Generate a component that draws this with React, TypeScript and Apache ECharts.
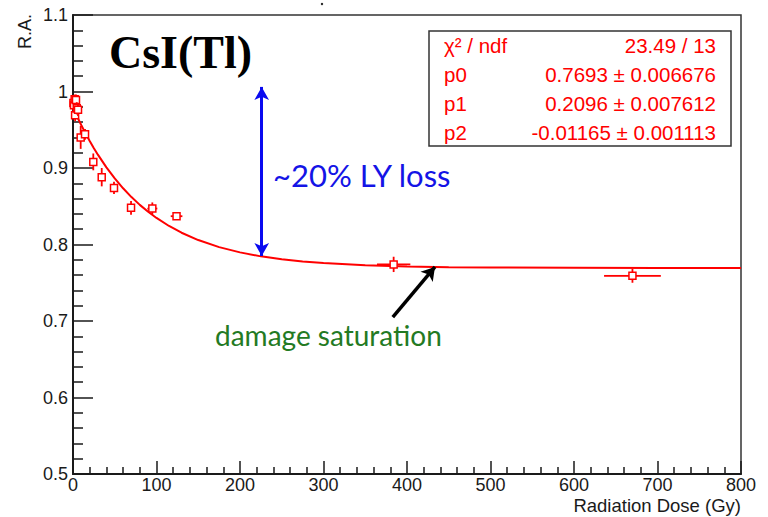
import React, { useEffect, useRef } from "react";
import * as echarts from "echarts";

// Measured points (Radiation Dose in Gy, relative amplitude)
const doseGy = [0.5, 1.2, 2, 2.5, 3.6, 4.5, 6, 9.2, 14.4, 24.3, 34.4, 49.1, 69.5, 95, 124, 384, 670];
const relAmp = [0.985, 0.982, 0.99, 0.969, 0.989, 0.978, 0.976, 0.94, 0.944, 0.908, 0.888, 0.874, 0.848, 0.847, 0.837, 0.774, 0.759];
const doseErr = [0.5, 0.5, 0.5, 0.5, 0.5, 0.5, 0.5, 1, 4, 1, 1, 1, 1, 6, 7, 20, 34];
const ampErr = [0.008, 0.008, 0.006, 0.008, 0.007, 0.008, 0.008, 0.015, 0.007, 0.011, 0.012, 0.008, 0.009, 0.008, 0.005, 0.01, 0.009];

// Fit curve
const fitDose = [0, 5, 10, 15, 20, 25, 30, 40, 50, 60, 70, 80, 90, 100, 115, 130, 150, 175, 200, 225, 250, 275, 300, 350, 400, 450, 500, 600, 700, 800];
const fitAmp = [0.9789, 0.967, 0.9559, 0.9453, 0.9353, 0.9259, 0.9171, 0.9008, 0.8864, 0.8735, 0.862, 0.8518, 0.8428, 0.8347, 0.8242, 0.8154, 0.8058, 0.7966, 0.7897, 0.7845, 0.7807, 0.7778, 0.7757, 0.7729, 0.7713, 0.7704, 0.7699, 0.7695, 0.7694, 0.7693];

// Stats box texts
const statNames = ["χ² / ndf", "p0", "p1", "p2"];
const statValues = ["23.49 / 13", "0.7693 ± 0.006676", "0.2096 ± 0.007612", "-0.01165 ± 0.001113"];

// Annotation arrow endpoints (data coords)
const lossArrow = [[226, 1.006], [226, 0.785]];
const satArrow = [[383, 0.705], [433.5, 0.7706]];

const RED = "#ff0000";
const AX = "#1a1a1a";
const SANS = "'Liberation Sans', Arial, Helvetica, sans-serif";

export default function App() {
  const ref = useRef<HTMLDivElement>(null);
  useEffect(() => {
    if (!ref.current) return;
    const chart = echarts.init(ref.current, null, { renderer: "svg" });
    const pts = doseGy.map((x, i) => [x, relAmp[i], doseErr[i], ampErr[i]]);
    const fit = fitDose.map((x, i) => [x, fitAmp[i]]);

    const statGraphics: any[] = [
      {
        type: "rect",
        shape: { x: 429, y: 31, width: 302, height: 115 },
        style: { fill: "#fff", stroke: "#333", lineWidth: 1.5 },
        z: 10,
      },
    ];
    statNames.forEach((n, i) => {
      const y = 45 + i * 29;
      statGraphics.push({
        type: "text",
        x: 444,
        y,
        z: 11,
        style: { text: n, fill: RED, font: `20.5px ${SANS}`, textAlign: "left", textVerticalAlign: "middle" },
      });
      statGraphics.push({
        type: "text",
        x: 716,
        y,
        z: 11,
        style: { text: statValues[i], fill: RED, font: `20.5px ${SANS}`, textAlign: "right", textVerticalAlign: "middle" },
      });
    });

    const axisCommon = {
      type: "value" as const,
      splitLine: { show: false },
      axisLine: { show: true, onZero: false, lineStyle: { color: AX, width: 2 } },
      axisLabel: { color: AX, fontSize: 18, fontFamily: SANS },
    };

    chart.setOption({
      animation: false,
      backgroundColor: "#fff",
      grid: { left: 73, right: 27, top: 15, bottom: 43, show: true, borderColor: "#333", borderWidth: 1.5 },
      xAxis: {
        ...axisCommon,
        min: 0,
        max: 800,
        interval: 100,
        axisTick: { show: true, inside: true, length: 13, lineStyle: { color: AX, width: 1.5 } },
        minorTick: { show: true, splitNumber: 5, length: 7, lineStyle: { color: AX, width: 1.5 } },
        axisLabel: { ...axisCommon.axisLabel, margin: 2 },
      },
      yAxis: {
        ...axisCommon,
        min: 0.5,
        max: 1.1,
        interval: 0.1,
        axisTick: { show: true, inside: true, length: 20, lineStyle: { color: AX, width: 1.5 } },
        minorTick: { show: true, splitNumber: 5, length: 10, lineStyle: { color: AX, width: 1.5 } },
        axisLabel: { ...axisCommon.axisLabel, margin: 5 },
      },
      series: [
        {
          type: "line",
          data: fit,
          showSymbol: false,
          symbol: "none",
          lineStyle: { color: RED, width: 2 },
          z: 3,
          markLine: {
            silent: true,
            animation: false,
            label: { show: false },
            data: [
              [
                { coord: lossArrow[0], symbol: "arrow", symbolSize: [11, 13], lineStyle: { color: "#0a0af0", width: 3, type: "solid" } },
                { coord: lossArrow[1], symbol: "arrow", symbolSize: [11, 13] },
              ],
              [
                { coord: satArrow[0], symbol: "none", lineStyle: { color: "#000", width: 3.5, type: "solid" } },
                { coord: satArrow[1], symbol: "arrow", symbolSize: [12, 13] },
              ],
            ],
          },
        },
        {
          type: "custom",
          data: pts,
          encode: { x: 0, y: 1 },
          z: 4,
          renderItem: (params: any, api: any) => {
            const x = api.value(0), y = api.value(1), ex = api.value(2), ey = api.value(3);
            const c = api.coord([x, y]);
            const l = api.coord([x - ex, y]);
            const r = api.coord([x + ex, y]);
            const t = api.coord([x, y + ey]);
            const b = api.coord([x, y - ey]);
            const h = 3.5;
            const ls = { stroke: RED, lineWidth: 1.8 };
            const children: any[] = [];
            if (c[0] - l[0] > h) children.push({ type: "line", shape: { x1: l[0], y1: c[1], x2: c[0] - h, y2: c[1] }, style: ls });
            if (r[0] - c[0] > h) children.push({ type: "line", shape: { x1: c[0] + h, y1: c[1], x2: r[0], y2: c[1] }, style: ls });
            if (c[1] - t[1] > h) children.push({ type: "line", shape: { x1: c[0], y1: t[1], x2: c[0], y2: c[1] - h }, style: ls });
            if (b[1] - c[1] > h) children.push({ type: "line", shape: { x1: c[0], y1: c[1] + h, x2: c[0], y2: b[1] }, style: ls });
            children.push({
              type: "rect",
              shape: { x: c[0] - h, y: c[1] - h, width: 2 * h, height: 2 * h },
              style: { fill: "#fff", stroke: RED, lineWidth: 1.5 },
            });
            return { type: "group", children };
          },
        },
      ],
      graphic: [
        {
          type: "text",
          x: 109,
          y: 52,
          style: { text: "CsI(Tl)", fill: "#000", font: "bold 46px 'Liberation Serif', 'Times New Roman', serif", textAlign: "left", textVerticalAlign: "middle" },
        },
        {
          type: "text",
          x: 273,
          y: 175,
          style: { text: "~20% LY loss", fill: "#1414e6", font: "31px Lato, 'Open Sans', sans-serif", textAlign: "left", textVerticalAlign: "middle" },
        },
        {
          type: "text",
          x: 215,
          y: 335,
          style: { text: "damage saturation", fill: "#237a23", font: "28px Lato, 'Open Sans', sans-serif", textAlign: "left", textVerticalAlign: "middle" },
        },
        {
          type: "text",
          x: 25,
          y: 14,
          rotation: Math.PI / 2,
          style: { text: "R.A.", fill: AX, font: `18px ${SANS}`, textAlign: "right", textVerticalAlign: "middle" },
        },
        {
          type: "text",
          x: 741,
          y: 505.5,
          style: { text: "Radiation Dose (Gy)", fill: AX, font: `18.5px ${SANS}`, textAlign: "right", textVerticalAlign: "middle" },
        },
        { type: "circle", shape: { cx: 322, cy: 4, r: 1.2 }, style: { fill: "#222" } },
        ...statGraphics,
      ],
    });
    return () => chart.dispose();
  }, []);
  return <div ref={ref} style={{ position: "fixed", left: 0, top: 0, width: 768, height: 517 }} />;
}
